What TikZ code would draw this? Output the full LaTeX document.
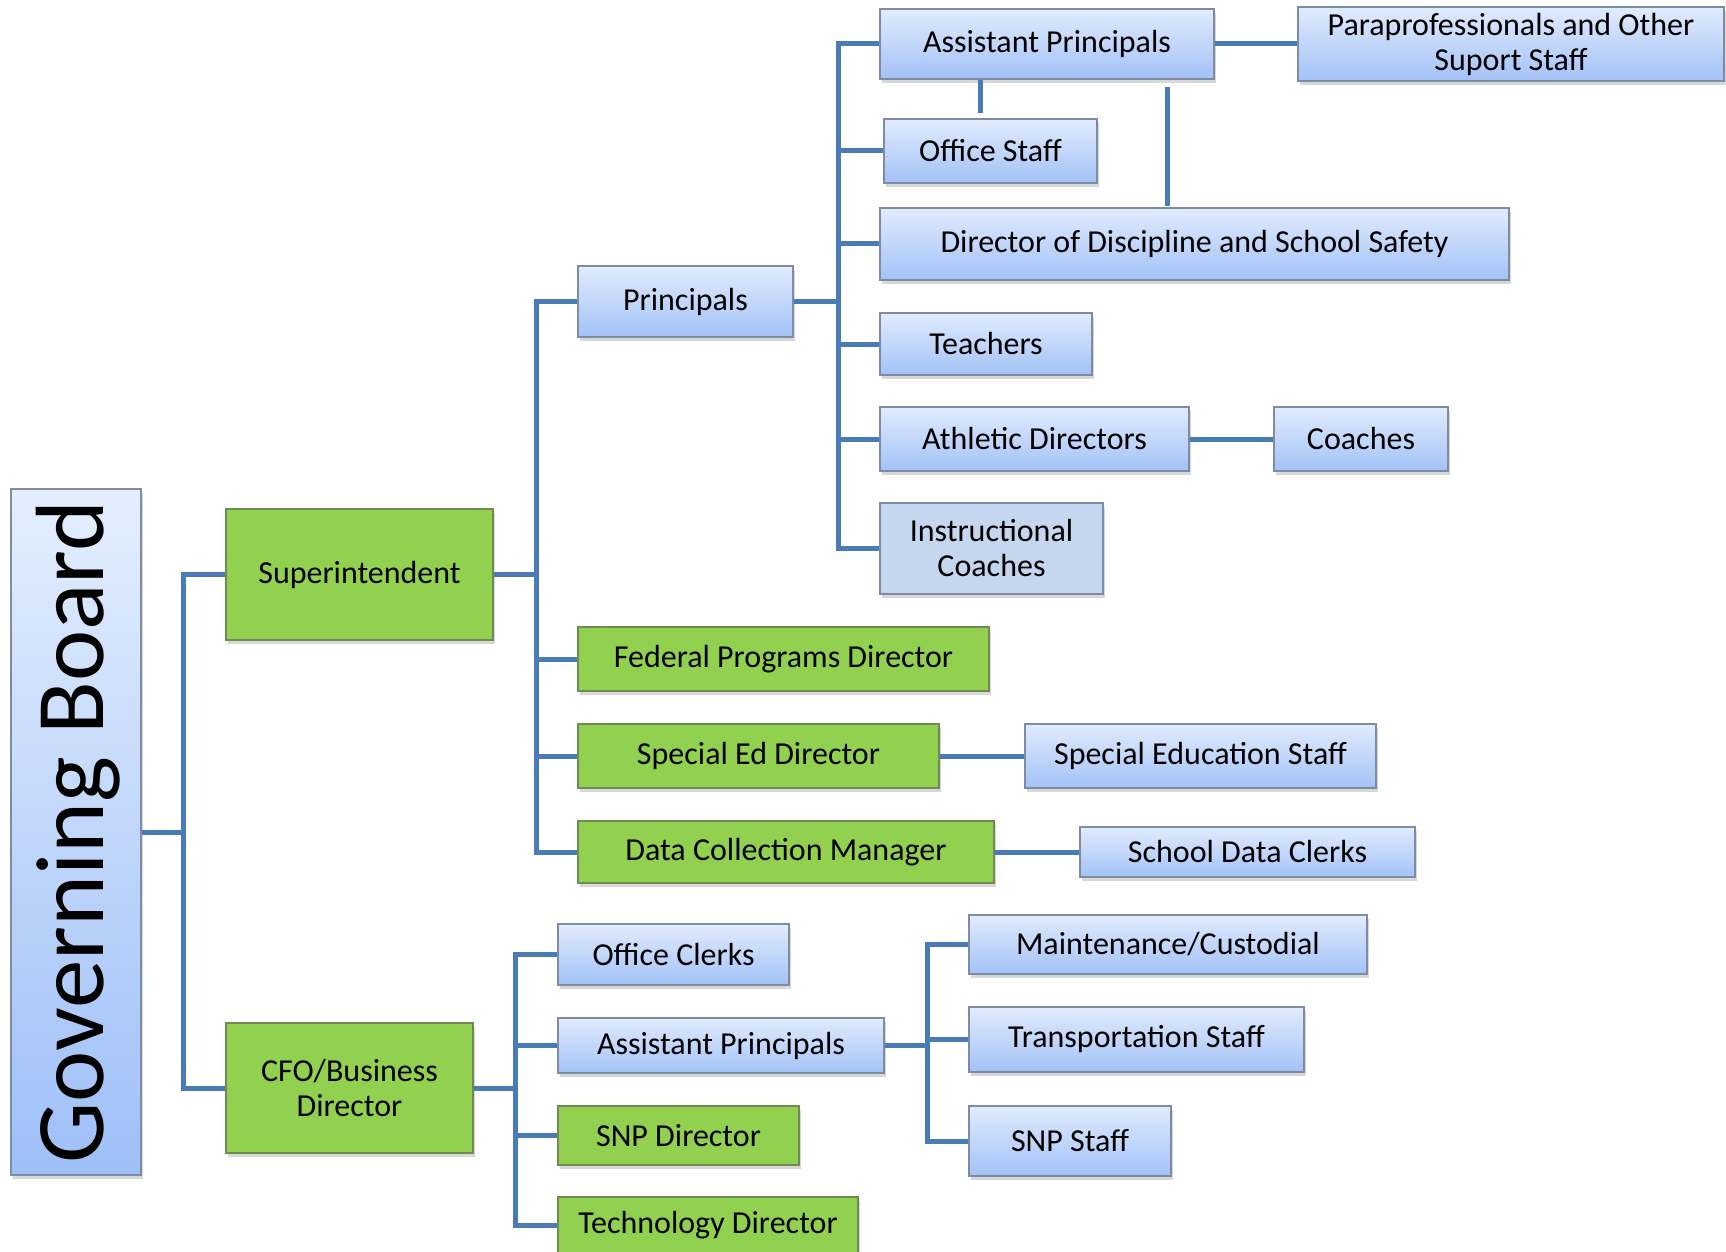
\documentclass[tikz,border=0pt]{standalone}
\usepackage{fontspec}
\setmainfont{Carlito}
\usetikzlibrary{shadows}
\definecolor{linec}{HTML}{4A7BB7}
\definecolor{btop}{HTML}{E1EBFD}
\definecolor{bbot}{HTML}{A3C2F7}
\definecolor{gbtop}{HTML}{E4EEFE}
\definecolor{gbbot}{HTML}{9EBFF7}
\definecolor{bord}{HTML}{7D8CA3}
\definecolor{grn}{HTML}{92D050}
\definecolor{grnbord}{HTML}{6F8A55}
\definecolor{icfill}{HTML}{C5D7EE}
\tikzset{
  base/.style={rectangle, inner sep=0pt, align=center, text=black,
    font=\fontsize{16}{17.5}\selectfont,
    drop shadow={shadow xshift=1.2pt, shadow yshift=-2pt, opacity=0.3}},
  bluebox/.style={base, draw=bord, line width=0.6pt, top color=btop, bottom color=bbot},
  greenbox/.style={base, draw=grnbord, line width=0.6pt, fill=grn},
  icbox/.style={base, draw=bord, line width=0.6pt, fill=icfill},
  gbbox/.style={base, draw=bord, line width=0.6pt, top color=gbtop, bottom color=gbbot},
  conn/.style={draw=linec, line width=2.5pt}
}
\begin{document}
\begin{tikzpicture}[x=0.5pt,y=-0.5pt]
\useasboundingbox (0,0) rectangle (1726,1252);
\clip (0,0) rectangle (1726,1252);
\fill[white] (0,0) rectangle (1726,1252);

% nodes
\node[gbbox, minimum width=65pt, minimum height=343pt] (gb) at (76,832) {};
\node[rotate=90, font=\fontsize{48.5}{50}\selectfont] (gbt) at (78,832) {Governing Board};
\node[greenbox, minimum width=133.5pt, minimum height=65.5pt] (super) at (359.5,574.5) {Superintendent};
\node[greenbox, minimum width=123.5pt, minimum height=65pt] (cfo) at (349.5,1088) {CFO/Business\\Director};

\node[bluebox, minimum width=107.5pt, minimum height=35.5pt] (prin) at (685.5,301.5) {Principals};
\node[greenbox, minimum width=205.5pt, minimum height=32pt] (fed) at (783.5,659) {Federal Programs Director};
\node[greenbox, minimum width=180.5pt, minimum height=32pt] (sped) at (758.5,756) {Special Ed Director};
\node[greenbox, minimum width=208pt, minimum height=31pt] (dcm) at (786,852) {Data Collection Manager};
\node[bluebox, minimum width=175.5pt, minimum height=32pt] (spedstaff) at (1200.5,756) {Special Education Staff};
\node[bluebox, minimum width=167.5pt, minimum height=25pt] (sdc) at (1247.5,852) {School Data Clerks};

\node[bluebox, minimum width=167pt, minimum height=35pt] (apt) at (1047,44) {Assistant Principals};
\node[bluebox, minimum width=213pt, minimum height=37pt] (para) at (1511,44) {Paraprofessionals and Other\\Suport Staff};
\node[bluebox, minimum width=106.5pt, minimum height=32pt] (office) at (990.5,151) {Office Staff};
\node[bluebox, minimum width=314.5pt, minimum height=36pt] (disc) at (1194.5,244) {Director of Discipline and School Safety};
\node[bluebox, minimum width=106pt, minimum height=31pt] (teach) at (986,344) {Teachers};
\node[bluebox, minimum width=154.5pt, minimum height=32pt] (ath) at (1034.5,439) {Athletic Directors};
\node[bluebox, minimum width=87pt, minimum height=32pt] (coach) at (1361,439) {Coaches};
\node[icbox, minimum width=111.5pt, minimum height=45.5pt] (ic) at (991.5,548.5) {Instructional\\Coaches};

\node[bluebox, minimum width=115.5pt, minimum height=30.5pt] (oc) at (673.5,954.5) {Office Clerks};
\node[bluebox, minimum width=163pt, minimum height=27.5pt] (apb) at (721,1045.5) {Assistant Principals};
\node[greenbox, minimum width=120.5pt, minimum height=29.5pt] (snpd) at (678.5,1135.5) {SNP Director};
\node[greenbox, minimum width=150pt, minimum height=28pt] (tech) at (708,1225) {Technology Director};
\node[bluebox, minimum width=199pt, minimum height=29.5pt] (maint) at (1168,944.5) {Maintenance/Custodial};
\node[bluebox, minimum width=167.5pt, minimum height=32.5pt] (trans) at (1136.5,1039.5) {Transportation Staff};
\node[bluebox, minimum width=101pt, minimum height=35pt] (snps) at (1070,1141) {SNP Staff};

% connectors
\begin{scope}[conn]
\draw (gb.east) -- ++(42,0) |- (super.west);
\draw (gb.east) -- ++(42,0) |- (cfo.west);

\draw (super.east) -- ++(43,0) |- (prin.west);
\draw (super.east) -- ++(43,0) |- (fed.west);
\draw (super.east) -- ++(43,0) |- (sped.west);
\draw (super.east) -- ++(43,0) |- (dcm.west);

\draw (prin.east) -- ++(45,0) |- (apt.west);
\draw (prin.east) -- ++(45,0) |- (office.west);
\draw (prin.east) -- ++(45,0) |- (disc.west);
\draw (prin.east) -- ++(45,0) |- (teach.west);
\draw (prin.east) -- ++(45,0) |- (ath.west);
\draw (prin.east) -- ++(45,0) |- (ic.west);

\draw (apt.east) -- (para.west);
\draw (apt.south) ++(-67,0) -- ++(0,33);
\draw (apt.south) ++(120,7) -- ++(0,119);
\draw (ath.east) -- (coach.west);
\draw (sped.east) -- (spedstaff.west);
\draw (dcm.east) -- (sdc.west);

\draw (cfo.east) -- ++(42,0) |- (oc.west);
\draw (cfo.east) -- ++(42,0) |- (apb.west);
\draw (cfo.east) -- ++(42,0) |- (snpd.west);
\draw (cfo.east) -- ++(42,0) |- (tech.west);

\draw (apb.east) -- ++(43,0) |- (maint.west);
\draw (apb.east) -- ++(43,0) |- (trans.west);
\draw (apb.east) -- ++(43,0) |- (snps.west);
\end{scope}
\end{tikzpicture}
\end{document}
